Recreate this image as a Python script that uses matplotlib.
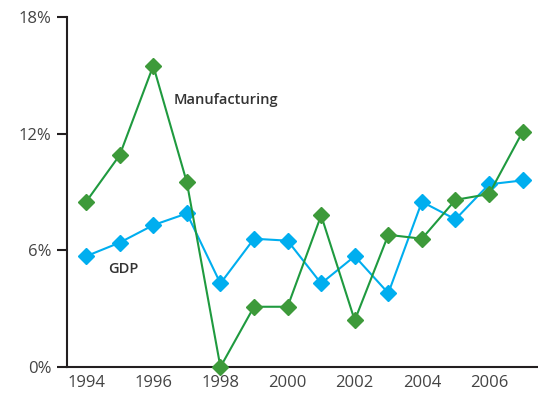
import matplotlib
matplotlib.use("Agg")
import matplotlib.pyplot as plt
import numpy as np

years = list(range(1994, 2008))
manufacturing = [8.5, 10.9, 15.5, 9.5, 0.0, 3.1, 3.1, 7.8, 2.4, 6.8, 6.6, 8.6, 8.9, 12.1]
gdp = [5.7, 6.4, 7.3, 7.9, 4.3, 6.6, 6.5, 4.3, 5.7, 3.8, 8.5, 7.6, 9.4, 9.6]

plt.rcParams['font.family'] = ['Open Sans', 'DejaVu Sans']

fig = plt.figure(figsize=(5.38, 3.94), dpi=100)
ax = fig.add_axes([0.1245, 0.0685, 0.875, 0.888])

ax.plot(years, gdp, color='#00aeef', lw=1.5, marker='D', markersize=8,
        markerfacecolor='#00aeef', markeredgecolor='#00aeef', zorder=3)
ax.plot(years, manufacturing, color='#1f9a3f', lw=1.5, marker='D', markersize=8,
        markerfacecolor='#3d9a3a', markeredgecolor='#3d9a3a', zorder=4, clip_on=False)

ax.text(1996.6, 13.55, 'Manufacturing', fontsize=10.5, fontweight='semibold', color='#333333')
ax.text(1994.65, 4.85, 'GDP', fontsize=10.5, fontweight='semibold', color='#333333')

ax.set_xlim(1993.43, 2007.45)
ax.set_ylim(0, 18)
ax.set_yticks([0, 6, 12, 18])
ax.set_yticklabels(['0%', '6%', '12%', '18%'])
ax.set_xticks(range(1994, 2008, 2))

for s in ['top', 'right']:
    ax.spines[s].set_visible(False)
for s in ['left', 'bottom']:
    ax.spines[s].set_linewidth(1.5)
    ax.spines[s].set_color('#231f20')

ax.tick_params(axis='y', length=7, width=1.5, color='#231f20', labelsize=12, labelcolor='#444444', pad=4)
ax.tick_params(axis='x', length=0, labelsize=12, labelcolor='#444444', pad=6)

fig.savefig('out.png', dpi=100)
